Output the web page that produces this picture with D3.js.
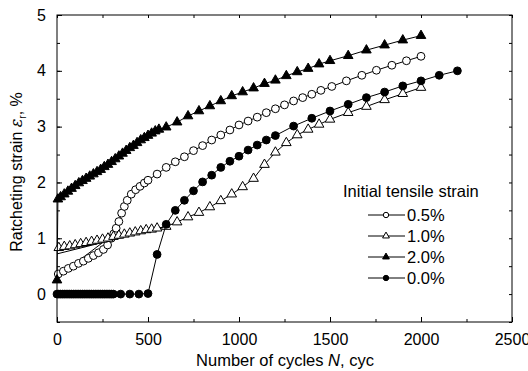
<!DOCTYPE html>
<html>
<head>
<meta charset="utf-8">
<script src="https://cdn.jsdelivr.net/npm/d3@7"></script>
<style>
  body { margin: 0; background: #fff; }
  text { font-family: "Liberation Sans", Arial, sans-serif; fill: #000; }
</style>
</head>
<body>
<script>
var width = 528;
var height = 371;

// data: [cycles N, ratcheting strain %]
var strain05 = [[7,0.36],[35,0.41],[62,0.46],[90,0.50],[118,0.55],[145,0.59],[172,0.64],[200,0.69],[228,0.74],[255,0.80],[278,0.88],[298,1.00],[312,1.08],[325,1.18],[340,1.30],[355,1.45],[370,1.57],[386,1.68],[408,1.79],[432,1.87],[456,1.93],[480,1.99],
  [500,2.04],[550,2.15],[600,2.27],[650,2.37],[700,2.46],[750,2.57],[800,2.66],[850,2.76],[900,2.85],[950,2.94],[1000,3.03],[1050,3.10],[1100,3.17],[1150,3.25],[1200,3.32],[1250,3.39],[1300,3.46],[1350,3.52],[1400,3.58],[1450,3.65],[1510,3.72],[1590,3.82],[1675,3.92],[1755,4.01],[1840,4.10],[1920,4.18],[2000,4.26]];
var link05 = [[0,0.30],[330,1.12]];

var strain10 = [[10,0.83],[40,0.85],[70,0.86],[100,0.88],[130,0.90],[160,0.92],[190,0.94],[220,0.96],[250,0.98],[280,1.00],[310,1.03],[340,1.05],[370,1.07],[400,1.09],[430,1.11],[460,1.13],[490,1.15],[520,1.16],[550,1.18],
  [600,1.21],[660,1.29],[720,1.38],[780,1.46],[840,1.56],[900,1.67],[960,1.79],[1020,1.92],[1080,2.07],[1140,2.32],[1200,2.54],[1260,2.71],[1320,2.85],[1380,2.95],[1440,3.04],[1500,3.13],[1600,3.25],[1700,3.36],[1800,3.48],[1900,3.59],[2000,3.70]];
var link10 = [[0,0.72],[600,1.21]];

var strain20 = [[0,0.25],[5,1.70],[20,1.74],[40,1.79],[60,1.84],[80,1.89],[100,1.94],[120,1.99],[140,2.03],[160,2.07],[180,2.11],[200,2.15],[220,2.19],[240,2.23],[260,2.28],[280,2.32],[300,2.37],[320,2.42],[340,2.47],[360,2.52],[380,2.57],[400,2.62],[420,2.66],[440,2.71],[460,2.76],[480,2.80],[500,2.84],[520,2.88],[540,2.92],[560,2.95],
  [600,2.99],[660,3.08],[720,3.19],[780,3.28],[840,3.37],[900,3.46],[960,3.55],[1020,3.62],[1080,3.69],[1140,3.77],[1200,3.83],[1260,3.91],[1320,3.98],[1380,4.04],[1440,4.12],[1500,4.18],[1600,4.27],[1700,4.37],[1800,4.46],[1900,4.55],[2000,4.63]];

var strain00 = [[0,0],[10,0],[20,0],[30,0],[40,0],[50,0],[60,0],[70,0],[80,0],[90,0],[100,0],[110,0],[120,0],[130,0],[140,0],[150,0],[160,0],[170,0],[180,0],[190,0],[200,0],[210,0],[220,0],[230,0],[240,0],[250,0],[260,0],[270,0],[280,0],[290,0],[300,0],[310,0],
  [350,0],[400,0],[450,0],[500,0.01],[550,0.71],[600,1.25],[650,1.50],[700,1.68],[750,1.85],[800,2.01],[850,2.13],[900,2.27],[950,2.38],[1000,2.47],[1050,2.58],[1100,2.67],[1150,2.76],[1200,2.84],[1300,3.01],[1400,3.15],[1500,3.28],[1600,3.40],[1700,3.52],[1800,3.62],[1900,3.73],[2000,3.82],[2100,3.92],[2200,4.00]];

var legendLabels = ["0.5%", "1.0%", "2.0%", "0.0%"];
var xTicks = [0, 500, 1000, 1500, 2000, 2500];
var yTicks = [0, 1, 2, 3, 4, 5];

var series = [
  { name: legendLabels[0], data: strain05, link: link05, shape: "circle", fill: "#fff" },
  { name: legendLabels[1], data: strain10, link: link10, shape: "triangle", fill: "#fff" },
  { name: legendLabels[2], data: strain20, link: null, shape: "triangle", fill: "#000" },
  { name: legendLabels[3], data: strain00, link: null, shape: "circle", fill: "#000" }
];

var x = d3.scaleLinear().domain([0, 2500]).range([57, 512]);
var y = d3.scaleLinear().domain([-0.5, 5]).range([322, 15]);

var svg = d3.select("body")
  .append("svg")
    .attr("width", width)
    .attr("height", height);

// ticks (inward) on all four sides
function minorX() { return d3.range(0, 2501, 250); }
function minorY() { return d3.range(-0.5, 5.01, 0.5); }

svg.append("g")
    .attr("transform", "translate(0,322)")
    .call(d3.axisBottom(x).tickValues(minorX()).tickSize(-3).tickFormat(""))
    .call(function (g) { g.select(".domain").remove(); });
svg.append("g")
    .attr("transform", "translate(0,322)")
    .call(d3.axisBottom(x).tickValues(xTicks).tickSize(-5).tickPadding(12).tickFormat(d3.format("d")))
    .call(function (g) {
      g.select(".domain").remove();
      g.selectAll("text").attr("font-size", 16).attr("font-family", "Liberation Sans, Arial, sans-serif");
    });
svg.append("g")
    .attr("transform", "translate(0,15)")
    .call(d3.axisTop(x).tickValues(minorX()).tickSize(-3).tickFormat(""))
    .call(function (g) { g.select(".domain").remove(); });

svg.append("g")
    .attr("transform", "translate(57,0)")
    .call(d3.axisLeft(y).tickValues(minorY()).tickSize(-3).tickFormat(""))
    .call(function (g) { g.select(".domain").remove(); });
svg.append("g")
    .attr("transform", "translate(57,0)")
    .call(d3.axisLeft(y).tickValues(yTicks).tickSize(-5).tickPadding(11).tickFormat(d3.format("d")))
    .call(function (g) {
      g.select(".domain").remove();
      g.selectAll("text").attr("font-size", 16).attr("font-family", "Liberation Sans, Arial, sans-serif");
    });
svg.append("g")
    .attr("transform", "translate(512,0)")
    .call(d3.axisRight(y).tickValues(minorY()).tickSize(-3).tickFormat(""))
    .call(function (g) { g.select(".domain").remove(); });

svg.append("rect")
    .attr("x", 57).attr("y", 15)
    .attr("width", 455).attr("height", 307)
    .attr("fill", "none")
    .attr("stroke", "#000")
    .attr("stroke-width", 1);

// axis titles
var xt = svg.append("text")
    .attr("x", 285).attr("y", 366)
    .attr("text-anchor", "middle")
    .attr("font-size", 16.5);
xt.append("tspan").text("Number of cycles ");
xt.append("tspan").attr("font-style", "italic").text("N");
xt.append("tspan").text(", cyc");

var yt = svg.append("text")
    .attr("transform", "translate(22,172) rotate(-90)")
    .attr("text-anchor", "middle")
    .attr("font-size", 16);
yt.append("tspan").text("Ratcheting strain ");
yt.append("tspan").attr("font-style", "italic").attr("font-family", "DejaVu Serif, serif").text("\u03b5");
yt.append("tspan").attr("font-size", 10).attr("dy", 4).text("r");
yt.append("tspan").attr("dy", -4).text(", %");

var line = d3.line()
    .x(function (d) { return x(d[0]); })
    .y(function (d) { return y(d[1]); });

function drawMark(sel, s, size) {
  if (s.shape === "circle") {
    sel.append("circle").attr("r", size === "big" ? 3.9 : 2.7);
  } else {
    sel.append("path").attr("d", d3.symbol().type(d3.symbolTriangle).size(size === "big" ? 40 : 20)());
  }
  sel.selectAll("circle, path")
      .attr("fill", s.fill)
      .attr("stroke", "#000")
      .attr("stroke-width", 1);
}

series.forEach(function (s) {
  var g = svg.append("g");
  if (s.link) {
    g.append("path")
        .datum(s.link)
        .attr("d", line)
        .attr("fill", "none")
        .attr("stroke", "#000")
        .attr("stroke-width", 1);
  }
  g.append("path")
      .datum(s.data)
      .attr("d", line)
      .attr("fill", "none")
      .attr("stroke", "#000")
      .attr("stroke-width", 1);
  g.selectAll("g.pt")
      .data(s.data)
    .enter().append("g")
      .attr("class", "pt")
      .attr("transform", function (d) { return "translate(" + x(d[0]) + "," + y(d[1]) + ")"; })
      .each(function () { drawMark(d3.select(this), s, "big"); });
});

// legend
var legend = svg.append("g");
legend.append("text")
    .attr("x", 343).attr("y", 197)
    .attr("font-size", 16.5)
    .text("Initial tensile strain");

series.forEach(function (s, i) {
  var cy = 215 + i * 21;
  var row = legend.append("g").attr("transform", "translate(0," + cy + ")");
  row.append("line")
      .attr("x1", 368).attr("x2", 405)
      .attr("y1", 0).attr("y2", 0)
      .attr("stroke", "#000")
      .attr("stroke-width", 1);
  var m = row.append("g").attr("transform", "translate(386,0)");
  drawMark(m, s, "small");
  row.append("text")
      .attr("x", 407).attr("y", 6)
      .attr("font-size", 16.5)
      .text(s.name);
});
</script>
</body>
</html>
